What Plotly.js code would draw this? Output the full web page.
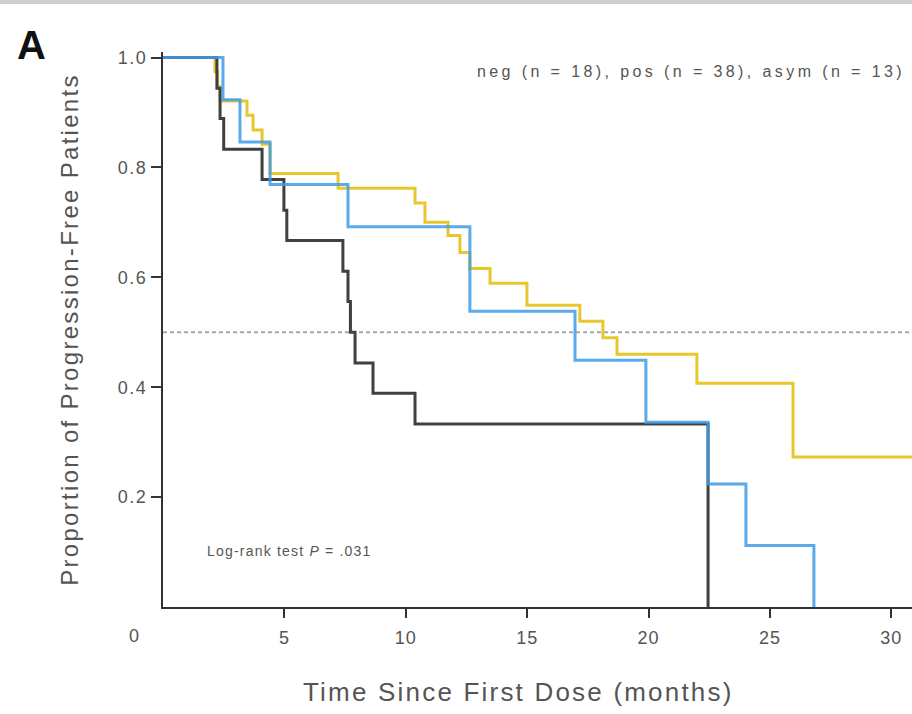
<!DOCTYPE html>
<html>
<head>
<meta charset="utf-8">
<script src="https://cdn.plot.ly/plotly-3.0.1.min.js"></script>
<style>
html,body{margin:0;padding:0;background:#fff;}
#frame{width:912px;height:714px;box-sizing:border-box;border-top:4px solid #cfcfcf;}
#chart{width:912px;height:710px;}
</style>
</head>
<body>
<div id="frame"><div id="chart"></div></div>
<script>
// Kaplan-Meier step data (time in months, proportion progression-free)
const negTime = [0, 2.22, 2.35, 2.5, 4.08, 4.98, 5.1, 7.41, 7.62, 7.72, 7.91, 8.65, 10.38, 22.45];
const negSurv = [1.0, 0.944, 0.889, 0.833, 0.778, 0.722, 0.667, 0.611, 0.556, 0.5, 0.444, 0.389, 0.333, 0.0];

const asymTime = [0, 2.47, 3.17, 4.41, 7.62, 12.64, 16.97, 19.89, 22.45, 24.01, 26.81];
const asymSurv = [1.0, 0.923, 0.846, 0.769, 0.692, 0.538, 0.449, 0.336, 0.224, 0.112, 0.0];

const posTime = [0, 2.14, 2.25, 2.35, 3.46, 3.71, 4.08, 4.41, 7.21, 10.38, 10.79, 11.74, 12.23, 12.64, 13.47, 14.99, 17.17, 18.12, 18.70, 21.99, 25.95, 31.0];
const posSurv = [1.0, 0.974, 0.947, 0.921, 0.895, 0.868, 0.842, 0.789, 0.762, 0.735, 0.700, 0.676, 0.645, 0.616, 0.589, 0.549, 0.520, 0.490, 0.460, 0.407, 0.273, 0.273];

const medianLine = 0.5;
const xTicks = [5, 10, 15, 20, 25, 30];
const xTickText = ['5', '10', '15', '20', '25', '30'];
const yTicks = [0.2, 0.4, 0.6, 0.8, 1.0];
const yTickText = ['0.2', '0.4', '0.6', '0.8', '1.0'];
const xMax = 30.85;

const gray = '#555555';
const sp = (s, ls) => '<span style="letter-spacing:' + ls + 'px">' + s + '</span>';

const traces = [
  {x: [0, xMax], y: [medianLine, medianLine], mode: 'lines', line: {color: '#a8a8a8', width: 2, dash: '4px,3px'}, hoverinfo: 'skip', showlegend: false},
  {x: posTime, y: posSurv, mode: 'lines', name: 'pos', line: {shape: 'hv', color: '#e8c72e', width: 3}, showlegend: false},
  {x: negTime, y: negSurv, mode: 'lines', name: 'neg', line: {shape: 'hv', color: '#404040', width: 3}, showlegend: false},
  {x: asymTime, y: asymSurv, mode: 'lines', name: 'asym', line: {shape: 'hv', color: 'rgba(62,155,232,0.85)', width: 3}, showlegend: false}
];

const layout = {
  width: 912, height: 710,
  margin: {l: 163, r: 0, t: 48, b: 107},
  paper_bgcolor: '#fff', plot_bgcolor: '#fff',
  font: {family: 'Liberation Sans, Arial, sans-serif', color: gray},
  xaxis: {
    range: [0, xMax], tickvals: xTicks, ticktext: xTickText.map(t => sp(t, 1)),
    showline: true, linecolor: '#333', linewidth: 2,
    ticks: 'outside', ticklen: 9, tickwidth: 2, tickcolor: '#333',
    ticklabelstandoff: 4,
    showgrid: false, zeroline: false,
    tickfont: {size: 18, color: gray},
    automargin: false
  },
  yaxis: {
    range: [0, 1.01], tickvals: yTicks, ticktext: yTickText.map(t => sp(t, 1.5)),
    showline: true, linecolor: '#333', linewidth: 2,
    ticks: 'outside', ticklen: 10, tickwidth: 2, tickcolor: '#333',
    showgrid: false, zeroline: false,
    tickfont: {size: 18, color: gray},
    title: {text: sp('Proportion of Progression-Free Patients', 2.3), font: {size: 24, color: gray}, standoff: 32},
    automargin: false
  },
  annotations: [
    {xref: 'paper', yref: 'paper', x: (518 - 163) / 749, y: (607 - 692) / 555, xanchor: 'center', yanchor: 'middle', showarrow: false,
     text: sp('Time Since First Dose (months)', 2.2), font: {size: 26, color: gray}},
    {xref: 'paper', yref: 'paper', x: (475 - 163) / 749, y: 0.964, xanchor: 'left', yanchor: 'middle', showarrow: false,
     text: sp('neg (n = 18), pos (n = 38), asym (n = 13)', 3.4), font: {size: 16, color: gray}},
    {xref: 'paper', yref: 'paper', x: (205 - 163) / 749, y: 0.101, xanchor: 'left', yanchor: 'middle', showarrow: false,
     text: sp('Log-rank test <i>P</i> = .031', 1.2), font: {size: 14, color: gray}},
    {xref: 'paper', yref: 'paper', x: -0.0387, y: -0.052, xanchor: 'center', yanchor: 'middle', showarrow: false,
     text: '0', font: {size: 18, color: gray}},
    {xref: 'paper', yref: 'paper', x: -0.175, y: 1.013, xanchor: 'center', yanchor: 'middle', showarrow: false,
     text: '<b>A</b>', font: {size: 40, color: '#111'}}
  ]
};

Plotly.newPlot('chart', traces, layout, {displayModeBar: false, staticPlot: true});
</script>
</body>
</html>
